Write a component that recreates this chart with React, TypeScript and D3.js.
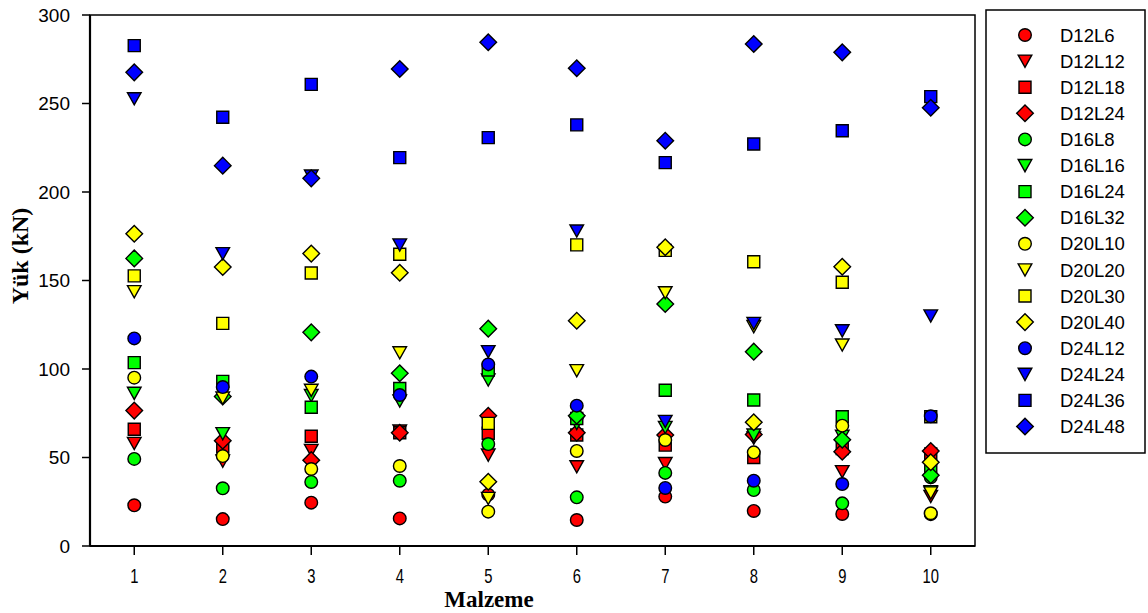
import React from "react";
import * as d3 from "d3";

// Material index on the x axis
const materials = [1, 2, 3, 4, 5, 6, 7, 8, 9, 10];
const yTicks = [0, 50, 100, 150, 200, 250, 300];

// Load (kN) per material for each specimen group
const d12l6 = [23, 15.2, 24.5, 15.6, 29, 14.7, 27.9, 19.8, 18.1, 18];
const d12l12 = [58, 48, 54, 65, 51.4, 44.8, 46.6, 61, 42, 28];
const d12l18 = [66, 56, 62, 64, 63.7, 62.7, 57, 50, 55, 52];
const d12l24 = [76.5, 59.5, 48.5, 64, 73.6, 64, 62.7, 63, 53.3, 53.7];
const d16l8 = [49.2, 32.6, 36.2, 36.9, 57.6, 27.5, 41.3, 31.6, 24.1, 38.8];
const d16l16 = [86.3, 63.5, 85, 82, 93.8, 69.3, 67, 62.7, 62, 30.7];
const d16l24 = [103.6, 93, 78.4, 89, 99.4, 72, 88, 82.5, 73, 44];
const d16l32 = [162.5, 84.5, 120.7, 97.6, 122.8, 73.6, 136.7, 109.8, 60, 40];
const d20l10 = [95.1, 50.8, 43.5, 45.2, 19.4, 53.7, 59.9, 52.9, 68, 18.5];
const d20l20 = [143.7, 83.6, 88, 109.2, 26.9, 99.1, 143.1, 124, 113.6, 30];
const d20l30 = [152.6, 125.8, 154.2, 164.8, 69.3, 170.1, 167, 160.6, 149, 73];
const d20l40 = [176.4, 157.6, 165.2, 154.4, 36.3, 127.3, 168.8, 69.9, 157.8, 47.3];
const d24l12 = [117.3, 89.8, 95.7, 85.3, 102.6, 79.3, 32.8, 36.9, 35, 73.3];
const d24l24 = [252.7, 165.2, 209, 170.1, 109.8, 178, 70.4, 125.8, 121.6, 130];
const d24l36 = [282.7, 242.2, 260.8, 219.4, 230.7, 237.9, 216.6, 227.1, 234.6, 253.9];
const d24l48 = [267.6, 214.9, 207.7, 269.5, 284.6, 269.9, 229, 283.6, 278.9, 247.6];

type Shape = "circle" | "triangle" | "square" | "diamond";

const RED = "#FF0000";
const GREEN = "#00FF00";
const YELLOW = "#FFFF00";
const BLUE = "#0000FF";

const seriesList: { name: string; color: string; shape: Shape; values: number[] }[] = [
  { name: "D12L6", color: RED, shape: "circle", values: d12l6 },
  { name: "D12L12", color: RED, shape: "triangle", values: d12l12 },
  { name: "D12L18", color: RED, shape: "square", values: d12l18 },
  { name: "D12L24", color: RED, shape: "diamond", values: d12l24 },
  { name: "D16L8", color: GREEN, shape: "circle", values: d16l8 },
  { name: "D16L16", color: GREEN, shape: "triangle", values: d16l16 },
  { name: "D16L24", color: GREEN, shape: "square", values: d16l24 },
  { name: "D16L32", color: GREEN, shape: "diamond", values: d16l32 },
  { name: "D20L10", color: YELLOW, shape: "circle", values: d20l10 },
  { name: "D20L20", color: YELLOW, shape: "triangle", values: d20l20 },
  { name: "D20L30", color: YELLOW, shape: "square", values: d20l30 },
  { name: "D20L40", color: YELLOW, shape: "diamond", values: d20l40 },
  { name: "D24L12", color: BLUE, shape: "circle", values: d24l12 },
  { name: "D24L24", color: BLUE, shape: "triangle", values: d24l24 },
  { name: "D24L36", color: BLUE, shape: "square", values: d24l36 },
  { name: "D24L48", color: BLUE, shape: "diamond", values: d24l48 },
];

const W = 1148;
const H = 613;
const plot = { left: 90, right: 975, top: 15, bottom: 546 };

const x = d3.scaleLinear().domain([0.5, 10.5]).range([plot.left, plot.right]);
const y = d3.scaleLinear().domain([0, 300]).range([plot.bottom, plot.top]);

function shapePath(shape: Shape): string {
  const p = d3.path();
  if (shape === "circle") {
    p.arc(0, 0, 6.3, 0, Math.PI * 2);
  } else if (shape === "square") {
    p.rect(-6, -6, 12, 12);
  } else if (shape === "triangle") {
    p.moveTo(-6.8, -6);
    p.lineTo(6.8, -6);
    p.lineTo(0, 6.2);
    p.closePath();
  } else {
    p.moveTo(0, -8.3);
    p.lineTo(8.3, 0);
    p.lineTo(0, 8.3);
    p.lineTo(-8.3, 0);
    p.closePath();
  }
  return p.toString();
}

function Marker({ shape, color, cx, cy }: { shape: Shape; color: string; cx: number; cy: number }) {
  return (
    <path
      d={shapePath(shape)}
      transform={`translate(${cx},${cy})`}
      fill={color}
      stroke="#000"
      strokeWidth={1.4}
      strokeLinejoin="miter"
    />
  );
}

const legend = { x: 986, y: 10, w: 159, h: 443, rowY0: 35, rowStep: 26.1, markerX: 1025, textX: 1060 };

export default function App() {
  return (
    <svg
      width={W}
      height={H}
      style={{ position: "absolute", left: 0, top: 0, background: "#fff" }}
      fontFamily="'Liberation Sans', Arial, sans-serif"
    >
      <rect x={0} y={0} width={W} height={H} fill="#fff" />

      {/* plot frame */}
      <rect
        x={plot.left}
        y={plot.top}
        width={plot.right - plot.left}
        height={plot.bottom - plot.top}
        fill="none"
        stroke="#000"
        strokeWidth={1.5}
      />
      <line x1={plot.left} x2={plot.left} y1={plot.top} y2={plot.bottom} stroke="#000" strokeWidth={2.2} />
      <line x1={plot.left} x2={plot.right} y1={plot.bottom} y2={plot.bottom} stroke="#000" strokeWidth={2.2} />

      {/* y axis */}
      {yTicks.map((t) => (
        <g key={`y${t}`}>
          <line x1={plot.left - 8} x2={plot.left} y1={y(t)} y2={y(t)} stroke="#000" strokeWidth={1.5} />
          <text x={70} y={y(t)} dy="0.35em" textAnchor="end" fontSize={19} fill="#000">
            {t}
          </text>
        </g>
      ))}

      {/* x axis */}
      {materials.map((m) => (
        <g key={`x${m}`}>
          <line x1={x(m)} x2={x(m)} y1={plot.bottom} y2={plot.bottom + 9} stroke="#000" strokeWidth={1.5} />
          <text
            transform={`translate(${x(m)},583) scale(0.74,1)`}
            textAnchor="middle"
            fontSize={20}
            fill="#000"
          >
            {m}
          </text>
        </g>
      ))}

      {/* axis titles */}
      <text
        x={489}
        y={607}
        textAnchor="middle"
        fontFamily="'Liberation Serif', 'Times New Roman', serif"
        fontWeight="bold"
        fontSize={23}
        fill="#000"
      >
        Malzeme
      </text>
      <text
        transform="translate(20,256) rotate(-90)"
        textAnchor="middle"
        dy="0.35em"
        fontFamily="'Liberation Serif', 'Times New Roman', serif"
        fontWeight="bold"
        fontSize={24}
        fill="#000"
      >
        Yük (kN)
      </text>

      {/* data points */}
      {seriesList.map((s) => (
        <g key={s.name}>
          {s.values.map((v, i) => (
            <Marker key={i} shape={s.shape} color={s.color} cx={x(materials[i])} cy={y(v)} />
          ))}
        </g>
      ))}

      {/* legend */}
      <rect x={legend.x} y={legend.y} width={legend.w} height={legend.h} fill="#fff" stroke="#000" strokeWidth={1.5} />
      {seriesList.map((s, i) => {
        const cy = legend.rowY0 + i * legend.rowStep;
        return (
          <g key={`lg${s.name}`}>
            <Marker shape={s.shape} color={s.color} cx={legend.markerX} cy={cy} />
            <text x={legend.textX} y={cy} dy="0.36em" fontSize={18.5} fill="#000">
              {s.name}
            </text>
          </g>
        );
      })}
    </svg>
  );
}
